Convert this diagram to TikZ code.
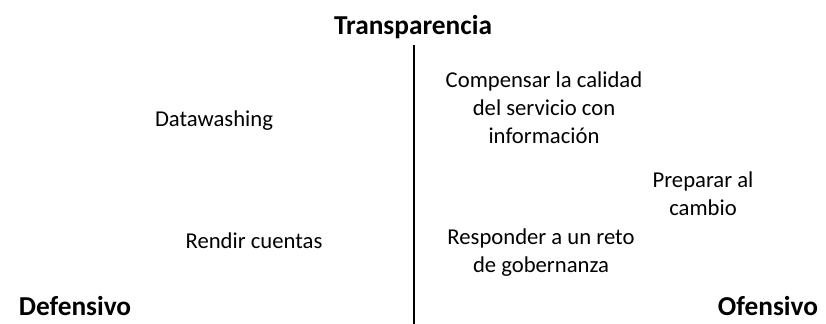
\documentclass[tikz,border=0pt]{standalone}
\usepackage{fontspec}
\setmainfont{Carlito}
\begin{document}
\begin{tikzpicture}[x=0.75pt, y=-0.75pt]
\tikzstyle{every node} = [align=center, inner sep=0pt, font=\fontsize{17}{21}\selectfont]
\tikzstyle{eje} = [font=\fontsize{20.5}{24}\selectfont\bfseries]
\useasboundingbox (0,0) rectangle (826,324);
\node[eje] (t) at (413, 27) {Transparencia};
\node[eje] (def) at (75, 306) {Defensivo};
\node[eje] (of) at (768, 306) {Ofensivo};
\node (dw) at (214, 121) {Datawashing};
\node (rc) at (254, 241) {Rendir cuentas};
\node (cc) at (544, 108) {Compensar la calidad\\del servicio con\\información};
\node (pc) at (703, 194) {Preparar al\\cambio};
\node (rg) at (541, 253) {Responder a un reto\\de gobernanza};
\coordinate (arriba) at (414, 45);
\coordinate (abajo) at (414, 324);
\draw [line width=1.5pt] (arriba) -- (abajo);
\end{tikzpicture}
\end{document}
